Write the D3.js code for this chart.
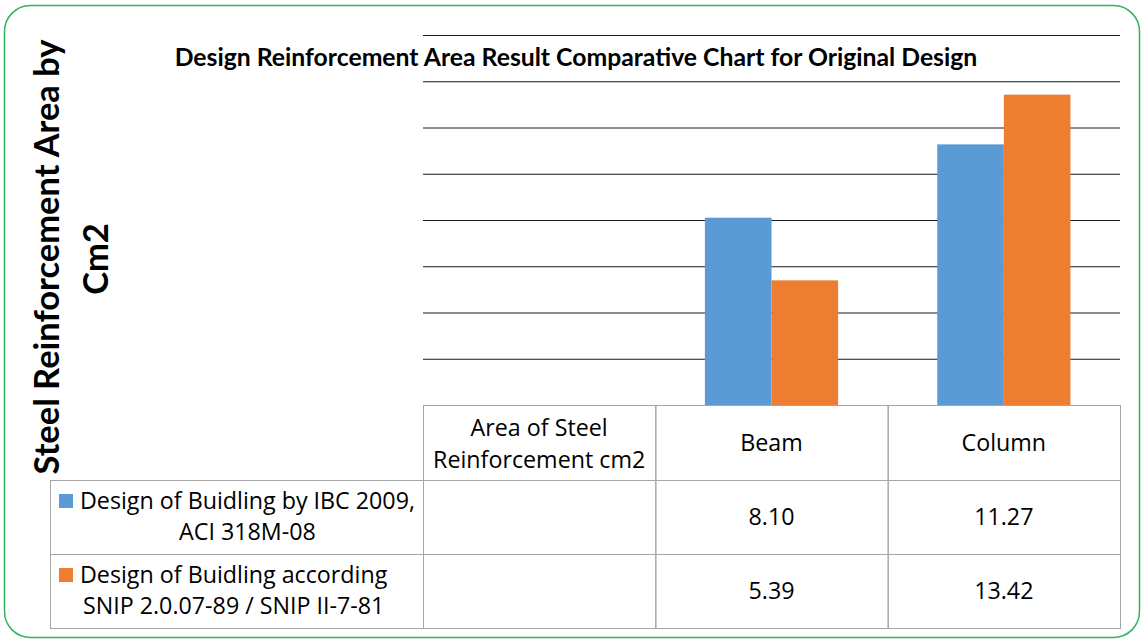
<!DOCTYPE html>
<html>
<head>
<meta charset="utf-8">
<script src="https://cdn.jsdelivr.net/npm/d3@7"></script>
<style>
  body { margin: 0; background: #fff; }
  svg { display: block; font-family: "Open Sans", Lato, sans-serif; }
</style>
</head>
<body>
<svg id="chart" width="1142" height="642"></svg>
<script>
// ===== DATA =====
const categories = ["Area of Steel Reinforcement cm2", "Beam", "Column"];
const categoryLines = [["Area of Steel", "Reinforcement cm2"], ["Beam"], ["Column"]];
const seriesNames = ["IBC", "SNIP"];
const seriesLines = [
    ["Design of Buidling by IBC 2009,", "ACI 318M-08"],
    ["Design of Buidling according", "SNIP 2.0.07-89 / SNIP II-7-81"]
];
const ibcValues = [null, 8.10, 11.27];
const snipValues = [null, 5.39, 13.42];
const yTicks = [2, 4, 6, 8, 10, 12, 14, 16];
const colors = ["#5B9BD5", "#ED7D31"];

const chartTitle = "Design Reinforcement Area Result Comparative Chart for Original Design";
const yTitleLines = ["Steel Reinforcement Area by", "Cm2"];

const series = [ibcValues, snipValues];

// ===== SETUP =====
const svg = d3.select('#chart');
const plotLeft = 423, plotRight = 1120, plotTop = 35, plotBottom = 405;
const tableLeft = 50, rowH = [75, 74, 74];

// scale font so the text spans a given width
function fitWidth(sel, target) {
    const w = sel.node().getComputedTextLength();
    const fs = parseFloat(sel.attr('font-size'));
    sel.attr('font-size', fs * target / w);
    return fs * target / w;
}

svg.append('rect')
    .attr('x', 4.5).attr('y', 5.5).attr('width', 1135).attr('height', 632)
    .attr('rx', 26).attr('fill', '#fff')
    .attr('stroke', '#2fb35f').attr('stroke-width', 1.5);

const x = d3.scaleBand().domain(categories).range([plotLeft, plotRight]).padding(0);
const xInner = d3.scaleBand().domain(seriesNames).range([0, x.bandwidth()])
    .paddingInner(0).paddingOuter(0.744);
const y = d3.scaleLinear().domain([0, 16]).range([plotBottom, plotTop]);

// gridlines
const grid = svg.append('g')
    .attr('transform', `translate(${plotLeft},0)`)
    .call(d3.axisLeft(y).tickValues(yTicks).tickSize(-(plotRight - plotLeft)).tickFormat(''));
grid.select('.domain').remove();
grid.selectAll('line').attr('stroke', '#1a1a1a').attr('stroke-width', 1);

// bars
series.forEach((vals, si) => {
    svg.append('g').selectAll('rect')
        .data(categories.map((c, i) => ({ c, v: vals[i] })).filter(d => d.v != null))
        .join('rect')
        .attr('x', d => x(d.c) + xInner(seriesNames[si]))
        .attr('y', d => y(d.v))
        .attr('width', xInner.bandwidth())
        .attr('height', d => y(0) - y(d.v))
        .attr('fill', colors[si]);
});

// ===== DATA TABLE =====
const tbl = svg.append('g');
const lineColor = '#a6a6a6';
const rowTop = [plotBottom, plotBottom + rowH[0], plotBottom + rowH[0] + rowH[1]];

// work out table font size from the widest legend line
const probe = tbl.append('text').attr('font-size', 20).text(seriesLines[0][0]);
const fs = fitWidth(probe, 335);
probe.remove();

// header cells
categories.forEach((c, i) => {
    tbl.append('rect').attr('x', x(c) + 0.5).attr('y', rowTop[0] + 0.5)
        .attr('width', x.bandwidth()).attr('height', rowH[0])
        .attr('fill', 'none').attr('stroke', lineColor);
    const lines = categoryLines[i];
    const cy = rowTop[0] + rowH[0] / 2;
    lines.forEach((ln, li) => {
        tbl.append('text')
            .attr('x', x(c) + x.bandwidth() / 2)
            .attr('y', lines.length > 1 ? cy - 7 + li * 32 : cy + 8)
            .attr('text-anchor', 'middle').attr('font-size', fs).attr('fill', '#000')
            .text(ln);
    });
});

// series rows
series.forEach((vals, si) => {
    const top = rowTop[si + 1], h = rowH[si + 1];
    const cy = top + h / 2;
    tbl.append('rect').attr('x', tableLeft + 0.5).attr('y', top + 0.5)
        .attr('width', plotLeft - tableLeft).attr('height', h)
        .attr('fill', 'none').attr('stroke', lineColor);
    categories.forEach((c, i) => {
        tbl.append('rect').attr('x', x(c) + 0.5).attr('y', top + 0.5)
            .attr('width', x.bandwidth()).attr('height', h)
            .attr('fill', 'none').attr('stroke', lineColor);
        if (vals[i] != null) {
            tbl.append('text')
                .attr('x', x(c) + x.bandwidth() / 2).attr('y', cy + 8)
                .attr('text-anchor', 'middle').attr('font-size', fs)
                .text(vals[i].toFixed(2));
        }
    });
    // legend key + wrapped series name
    const textLeft = tableLeft + 30;
    const lines = seriesLines[si];
    const texts = lines.map((ln, li) => tbl.append('text')
        .attr('y', cy - 8 + li * 31)
        .attr('text-anchor', 'middle').attr('font-size', fs)
        .text(ln));
    const blockW = d3.max(texts, t => t.node().getComputedTextLength());
    texts.forEach(t => t.attr('x', textLeft + blockW / 2));
    tbl.append('rect')
        .attr('x', tableLeft + 9).attr('y', cy - 23)
        .attr('width', 14).attr('height', 14)
        .attr('fill', colors[si]);
});

// ===== TITLES =====
const title = svg.append('text')
    .attr('x', 576).attr('y', 66)
    .attr('text-anchor', 'middle').attr('font-weight', 700).attr('font-size', 20)
    .attr('font-family', 'Lato, sans-serif')
    .text(chartTitle);
fitWidth(title, 803);

const yt = svg.append('g').attr('transform', 'translate(0,257) rotate(-90)')
    .attr('font-family', 'Lato, sans-serif');
const yt1 = yt.append('text').attr('x', 0).attr('y', 59)
    .attr('text-anchor', 'middle').attr('font-weight', 700).attr('font-size', 28)
    .text(yTitleLines[0]);
fitWidth(yt1, 435);
yt.append('text').attr('x', -2).attr('y', 108)
    .attr('text-anchor', 'middle').attr('font-weight', 700).attr('font-size', yt1.attr('font-size'))
    .text(yTitleLines[1]);
</script>
</body>
</html>
